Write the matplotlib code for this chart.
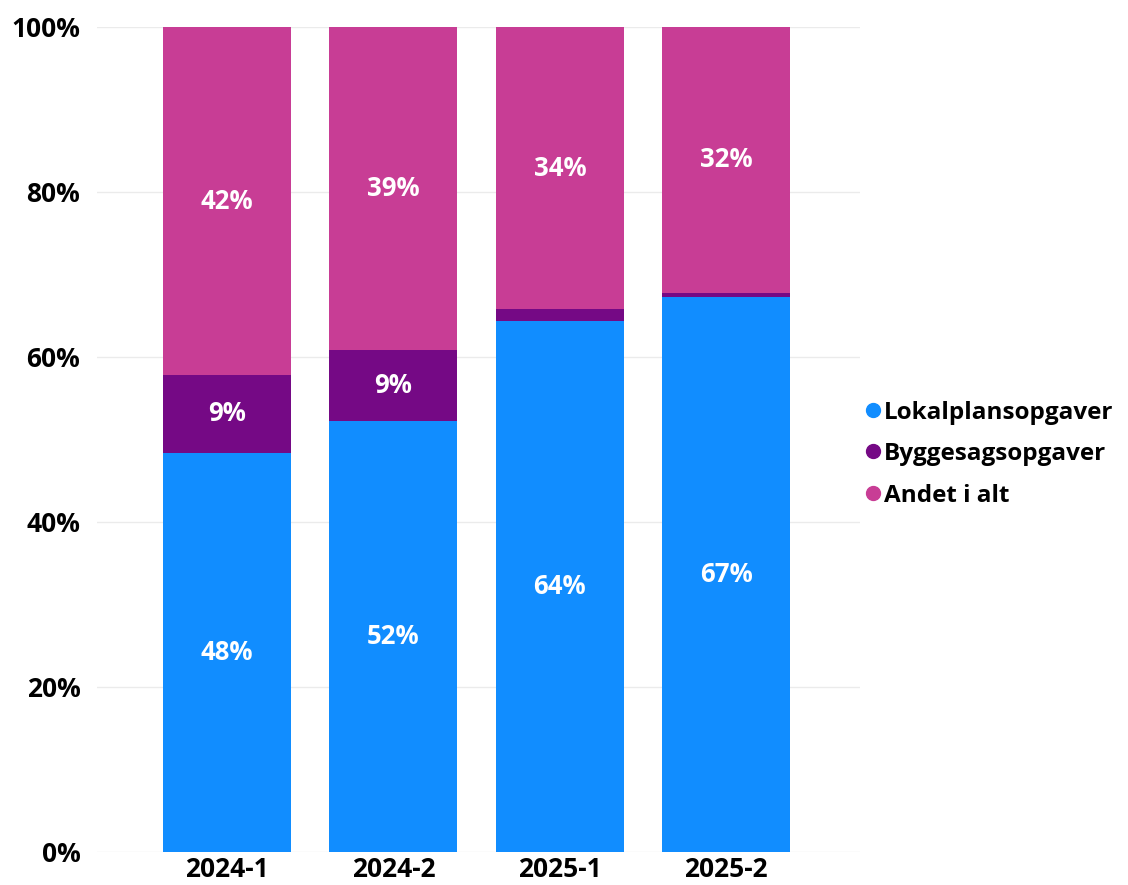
import matplotlib.pyplot as plt
from matplotlib.lines import Line2D
import numpy as np

# Andel af opgaver pr. halvår (procent)
periods = ["2024-1", "2024-2", "2025-1", "2025-2"]
lokalplan = [48.4, 52.2, 64.4, 67.3]
byggesag = [9.4, 8.6, 1.4, 0.5]
andet = [42.2, 39.2, 34.2, 32.2]

series = [
    ("Lokalplansopgaver", lokalplan, "#118DFF"),
    ("Byggesagsopgaver", byggesag, "#750985"),
    ("Andet i alt", andet, "#C83D95"),
]

plt.rcParams["font.family"] = ["Open Sans", "DejaVu Sans"]
plt.rcParams["font.weight"] = "bold"

fig = plt.figure(figsize=(11.28, 8.85), dpi=100)
ax = fig.add_axes([0.086, 0.0373, 0.676, 0.9322])

x = np.arange(len(periods))
bottom = np.zeros(len(periods))
for name, values, color in series:
    values = np.array(values)
    ax.bar(x, values, 0.77, bottom=bottom, color=color, zorder=2)
    for xi, b, v in zip(x, bottom, values):
        if v >= 3:
            ax.text(xi, b + v / 2, f"{v:.0f}%", ha="center", va="center",
                    color="white", fontsize=18.5, fontweight="bold", zorder=3)
    bottom += values

ax.set_xlim(-0.78, 3.8)
ax.set_ylim(0, 100)
ax.set_yticks([0, 20, 40, 60, 80, 100])
ax.set_yticklabels([f"{t}%" for t in [0, 20, 40, 60, 80, 100]])
ax.set_xticks(x)
ax.set_xticklabels(periods)
ax.tick_params(axis="both", length=0, labelsize=19)
ax.tick_params(axis="y", pad=12)
ax.tick_params(axis="x", pad=3)
ax.yaxis.grid(True, color="#EBEBEB", linewidth=1, zorder=0)
for s in ax.spines.values():
    s.set_visible(False)

handles = [Line2D([], [], marker="o", linestyle="", markersize=10,
                  markerfacecolor=c, markeredgecolor=c) for _, _, c in series]
fig.legend(handles, [n for n, _, _ in series], loc="center left",
           bbox_to_anchor=(0.745, 0.487), frameon=False, fontsize=17.5,
           handletextpad=0.0, labelspacing=0.72, handlelength=0.9)

fig.savefig("out.png", dpi=100)
